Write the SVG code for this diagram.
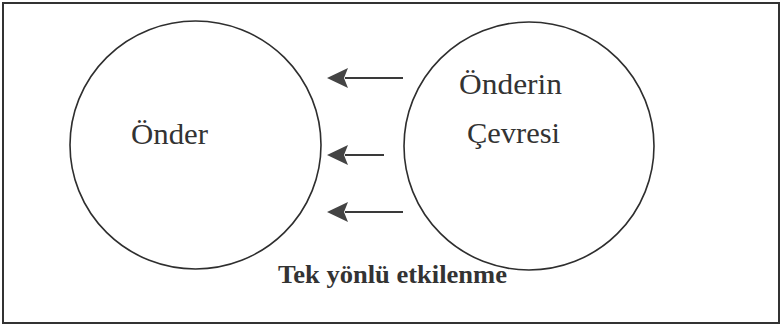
<svg xmlns="http://www.w3.org/2000/svg" width="782" height="329" viewBox="0 0 782 329">
<style>
.node ellipse{fill:none;stroke:#2e2e2e;stroke-width:1.6}
.lbl{font-family:"Liberation Serif","Times New Roman",serif;font-size:30px;fill:#333}
.conn line{stroke:#3a3a3a;stroke-width:2.2}
.head{fill:#444}
.cap{font-family:"Liberation Serif","Times New Roman",serif;font-size:26px;font-weight:bold;fill:#333}
</style>
<rect x="0" y="0" width="782" height="329" fill="#fff"/>
<rect x="3" y="3" width="776" height="320" fill="none" stroke="#333" stroke-width="2"/>
<g id="onder" class="node">
<ellipse cx="195.5" cy="145" rx="125.5" ry="124"/>
<text class="lbl" x="131" y="144" textLength="77" lengthAdjust="spacingAndGlyphs">Önder</text>
</g>
<g id="onderin-cevresi" class="node">
<ellipse cx="529" cy="146" rx="125" ry="124"/>
<text class="lbl" x="459" y="94" textLength="103" lengthAdjust="spacingAndGlyphs">Önderin</text>
<text class="lbl" x="467" y="143" textLength="93" lengthAdjust="spacingAndGlyphs">Çevresi</text>
</g>
<g id="connectors" class="conn">
<line x1="403" y1="78" x2="345" y2="78"/>
<path class="head" d="M327,78 L348,68 L344,78 L348,88 Z"/>
<line x1="384" y1="155" x2="345" y2="155"/>
<path class="head" d="M327,155 L348,145 L344,155 L348,165 Z"/>
<line x1="403" y1="212" x2="345" y2="212"/>
<path class="head" d="M327,212 L348,202 L344,212 L348,222 Z"/>
</g>
<text class="cap" x="278" y="283" textLength="229" lengthAdjust="spacingAndGlyphs">Tek yönlü etkilenme</text>
</svg>
